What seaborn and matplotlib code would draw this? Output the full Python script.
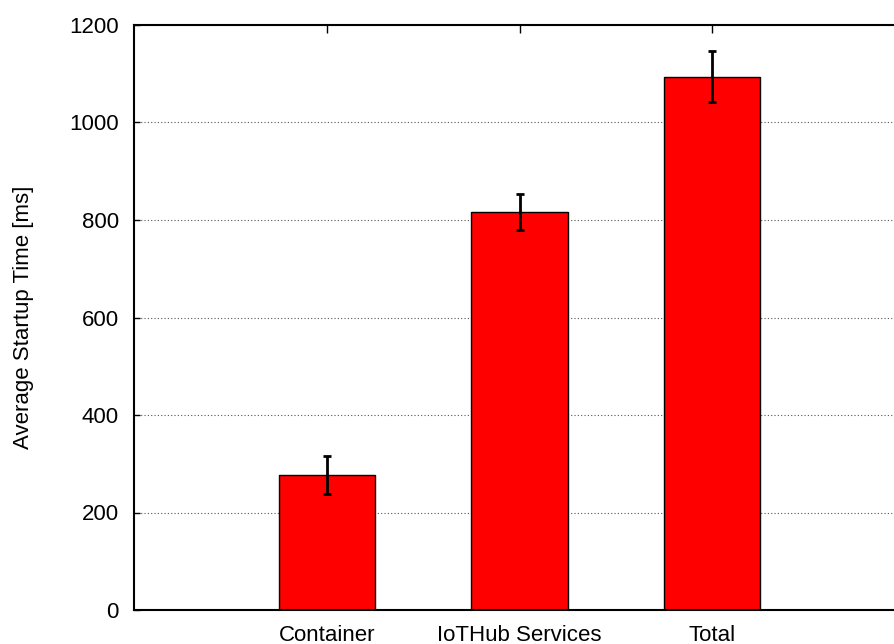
import matplotlib
matplotlib.use('Agg')
import matplotlib.pyplot as plt
import numpy as np
import pandas as pd
import seaborn as sns

categories = ['Container', 'IoTHub Services', 'Total']
mean_ms = [277, 816, 1094]
err_ms = [39, 37, 52]

sns.set_style('white')
plt.rcParams['font.family'] = ['Liberation Sans', 'DejaVu Sans']
plt.rcParams['text.color'] = 'black'
plt.rcParams['axes.labelcolor'] = 'black'
plt.rcParams['xtick.color'] = 'black'
plt.rcParams['ytick.color'] = 'black'

df = pd.DataFrame({'Component': categories, 'Time': mean_ms})

fig = plt.figure(figsize=(8.95, 6.44), dpi=100)
ax = fig.add_axes([134/895, 34/644, 771/895, 585/644])

sns.barplot(data=df, x='Component', y='Time', order=categories,
            color='#ff0000', saturation=1, width=0.5,
            edgecolor='black', linewidth=1.0, errorbar=None, ax=ax, zorder=2)

xpos = np.arange(len(categories))
ax.errorbar(xpos, mean_ms, yerr=err_ms, fmt='none', ecolor='black',
            elinewidth=2.0, capsize=3, capthick=2.0, zorder=3)

ax.set_xlim(-1, 3)
ax.set_ylim(0, 1200)
ax.set_yticks(range(0, 1201, 200))
ax.yaxis.grid(True, linestyle=(0, (1, 2)), color='#555555', linewidth=0.8, zorder=0)
ax.set_axisbelow(True)

ax.set_xlabel('')
ax.set_ylabel('Average Startup Time [ms]', fontsize=16, color='black')
ax.yaxis.set_label_coords(-0.13, 0.5)

ax.tick_params(axis='y', direction='in', length=4, width=1, labelsize=16, pad=11,
               left=True, right=False, colors='black')
ax.tick_params(axis='x', direction='in', length=6, width=1, labelsize=16, pad=11,
               bottom=True, top=True, colors='black')

for side in ['left', 'top', 'bottom', 'right']:
    ax.spines[side].set_color('black')
    ax.spines[side].set_linewidth(1.5)

fig.savefig('out.png', dpi=100)
